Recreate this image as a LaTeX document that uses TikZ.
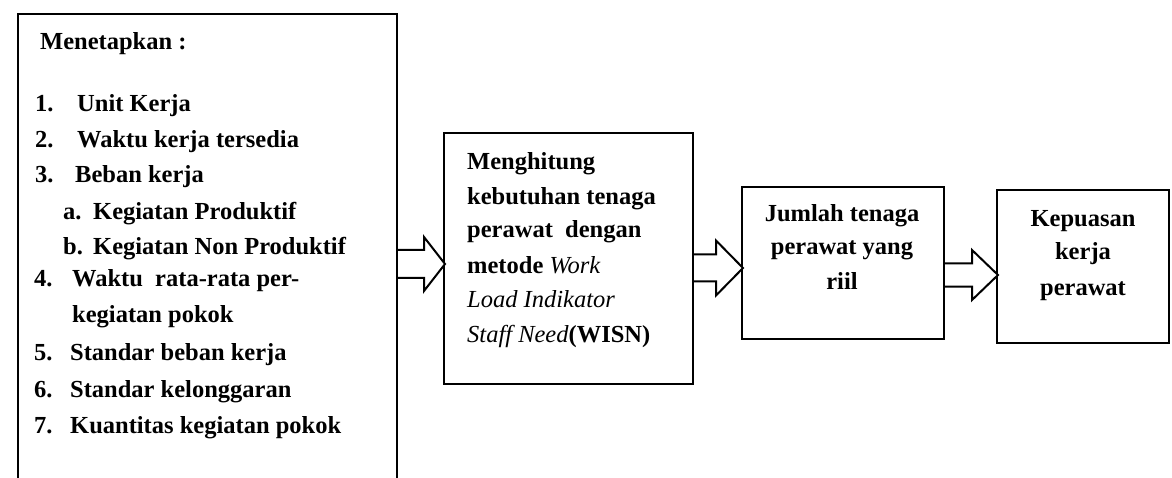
\documentclass[tikz,border=0pt]{standalone}
\usepackage{fontspec}
\setmainfont{Liberation Serif}
\begin{document}
\begin{tikzpicture}[x=1pt,y=-1pt,
  boxline/.style={draw=black, line width=2pt},
  txt/.style={inner sep=0pt, anchor=base west, font=\fontsize{24.5}{30}\selectfont\bfseries},
  ctxt/.style={inner sep=0pt, anchor=base, font=\fontsize{24.5}{30}\selectfont\bfseries},
  blockarrow/.style={draw=black, line width=2pt, fill=white, line join=miter}]
\useasboundingbox (0,0) rectangle (1172,478);
\clip (0,0) rectangle (1172,478);
% boxes
\node[boxline, rectangle, anchor=north west, minimum width=379pt, minimum height=500pt] (set) at (17,13) {};
\node[boxline, rectangle, anchor=north west, minimum width=249pt, minimum height=251pt] (mid) at (443,132) {};
\node[boxline, rectangle, anchor=north west, minimum width=202pt, minimum height=152pt] (real) at (741,186) {};
\node[boxline, rectangle, anchor=north west, minimum width=172pt, minimum height=153pt] (sat) at (996,189) {};
% left box text
\node[txt] (t0) at (40,50) {Menetapkan :};
\node[txt] (n1) at (35,112) {1.};  \node[txt] (l1) at (77,112) {Unit Kerja};
\node[txt] (n2) at (35,148) {2.};  \node[txt] (l2) at (77,148) {Waktu kerja tersedia};
\node[txt] (n3) at (35,183) {3.};  \node[txt] (l3) at (75,183) {Beban kerja};
\node[txt] (na) at (63,220) {a.};  \node[txt] (la) at (93,220) {Kegiatan Produktif};
\node[txt] (nb) at (63,255) {b.};  \node[txt] (lb) at (93,255) {Kegiatan Non Produktif};
\node[txt] (n4) at (34,287) {4.};  \node[txt] (l4) at (72,287) {Waktu\ \ rata-rata per-};
\node[txt] (l4b) at (72,322) {kegiatan pokok};
\node[txt] (n5) at (34,360) {5.};  \node[txt] (l5) at (70,360) {Standar beban kerja};
\node[txt] (n6) at (34,397) {6.};  \node[txt] (l6) at (70,397) {Standar kelonggaran};
\node[txt] (n7) at (34,433) {7.};  \node[txt] (l7) at (70,433) {Kuantitas kegiatan pokok};
% middle box text
\node[txt] (m1) at (467,170) {Menghitung};
\node[txt] (m2) at (467,205) {kebutuhan tenaga};
\node[txt] (m3) at (467,238) {perawat\ \ dengan};
\node[txt] (m4) at (467,273) {metode \textit{\mdseries Work}};
\node[txt] (m5) at (467,307) {\itshape\mdseries Load Indikator};
\node[txt] (m6) at (467,342) {\textit{\mdseries Staff Need}(WISN)};
% third box text
\node[ctxt] (r1) at (842,222) {Jumlah tenaga};
\node[ctxt] (r2) at (842,255) {perawat yang};
\node[ctxt] (r3) at (842,290) {riil};
% fourth box text
\node[ctxt] (s1) at (1083,227) {Kepuasan};
\node[ctxt] (s2) at (1083,260) {kerja};
\node[ctxt] (s3) at (1083,295) {perawat};
% block arrows
\coordinate (y1) at (0,264);
\coordinate (y2) at (0,268);
\coordinate (y3) at (0,275);
\draw[blockarrow, shift={(set.east |- y1)}]
  (0,-14) -- (26,-14) -- (26,-27) -- (47,0) -- (26,27) -- (26,14) -- (0,14);
\draw[blockarrow, shift={(mid.east |- y2)}]
  (0,-13.5) -- (22,-13.5) -- (22,-27.5) -- (49,0) -- (22,27.5) -- (22,13.5) -- (0,13.5);
\draw[blockarrow, shift={(real.east |- y3)}]
  (0,-11.5) -- (27,-11.5) -- (27,-25) -- (53,0) -- (27,25) -- (27,11.5) -- (0,11.5);
\end{tikzpicture}
\end{document}
